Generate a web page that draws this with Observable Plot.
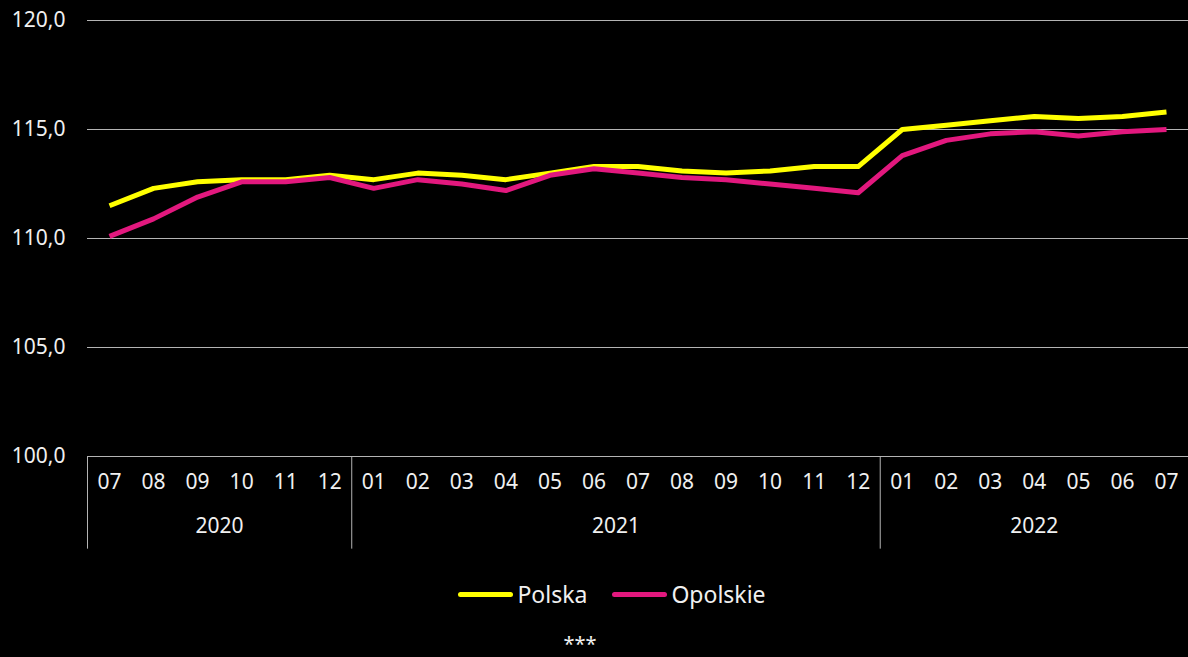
<!DOCTYPE html>
<html>
<head>
<meta charset="utf-8">
<script src="https://cdn.jsdelivr.net/npm/d3@7"></script>
<script src="https://cdn.jsdelivr.net/npm/@observablehq/plot@0.6"></script>
<style>
  html, body { margin: 0; padding: 0; background: #000; }
  body { width: 1188px; height: 657px; overflow: hidden; font-family: "Noto Sans", sans-serif; color: #f0f0f0; position: relative; }
  #legend { display: flex; justify-content: center; align-items: center; gap: 25px; height: 44px; margin-top: 16px; font-size: 23px; padding-left: 36px; }
  .item { display: flex; align-items: center; }
  .sw { display: inline-block; width: 55px; height: 5px; border-radius: 3px; margin-right: 4px; }
  #note { position: absolute; left: 0; width: 1160px; bottom: 0px; text-align: center; font-size: 20px; line-height: 27px; }
</style>
</head>
<body>
<div id="chart"></div>
<div id="legend"></div>
<div id="note">***</div>
<script>
const months = ["07","08","09","10","11","12","01","02","03","04","05","06","07","08","09","10","11","12","01","02","03","04","05","06","07"];
const years  = ["2020","2020","2020","2020","2020","2020","2021","2021","2021","2021","2021","2021","2021","2021","2021","2021","2021","2021","2022","2022","2022","2022","2022","2022","2022"];
const polska   = [111.5,112.3,112.6,112.7,112.7,112.9,112.7,113.0,112.9,112.7,113.0,113.3,113.3,113.1,113.0,113.1,113.3,113.3,115.0,115.2,115.4,115.6,115.5,115.6,115.8];
const opolskie = [110.1,110.9,111.9,112.6,112.6,112.8,112.3,112.7,112.5,112.2,112.9,113.2,113.0,112.8,112.7,112.5,112.3,112.1,113.8,114.5,114.8,114.9,114.7,114.9,115.0];
const seriesNames = ["Polska","Opolskie"];
const seriesColors = ["#ffff00","#e2187e"];
const yTicks = [100,105,110,115,120];

const rows = months.map((m,i) => ({i, m, y: years[i]}));
const data = [];
rows.forEach(r => {
  data.push({i: r.i, v: polska[r.i], s: seriesNames[0]});
  data.push({i: r.i, v: opolskie[r.i], s: seriesNames[1]});
});
const yearGroups = d3.groups(rows, d => d.y).map(([y, arr]) => ({y, center: d3.mean(arr, d => d.i), start: arr[0].i - 0.5}));
const yMin = yTicks[0];

const fmt = v => v.toFixed(1).replace(".", ",");

const chart = Plot.plot({
  width: 1188,
  height: 556,
  marginLeft: 87,
  marginRight: 0,
  marginTop: 20,
  marginBottom: 100,
  style: {background: "#000", color: "#f0f0f0", fontFamily: "Noto Sans, sans-serif", fontSize: "21px", overflow: "visible"},
  x: {type: "linear", domain: [-0.5, months.length - 0.5], axis: null},
  y: {domain: [yTicks[0], yTicks[yTicks.length-1]], axis: null},
  color: {domain: seriesNames, range: seriesColors},
  marks: [
    Plot.gridY(yTicks, {stroke: "#b4b4b4", strokeOpacity: 1, strokeWidth: 1}),
    Plot.axisY(yTicks, {tickSize: 0, tickPadding: 22, tickFormat: fmt, fontSize: 21, fill: "#f0f0f0", label: null}),
    Plot.ruleX(yearGroups, {x: "start", y1: yMin, y2: yMin - 4.25, stroke: "#b4b4b4", strokeWidth: 1}),
    Plot.text(rows, {x: "i", text: "m", frameAnchor: "bottom", dy: 32, fontSize: 21, fill: "#f0f0f0"}),
    Plot.text(yearGroups, {x: "center", text: "y", frameAnchor: "bottom", dy: 76, fontSize: 21, fill: "#f0f0f0"}),
    Plot.lineY(data, {x: "i", y: "v", z: "s", stroke: "s", strokeWidth: 5, strokeLinejoin: "round", strokeLinecap: "butt"})
  ]
});
document.getElementById("chart").appendChild(chart);

const legend = document.getElementById("legend");
seriesNames.forEach((n, k) => {
  const it = document.createElement("div");
  it.className = "item";
  it.innerHTML = `<span class="sw" style="background:${seriesColors[k]}"></span><span>${n}</span>`;
  legend.appendChild(it);
});
</script>
</body>
</html>
